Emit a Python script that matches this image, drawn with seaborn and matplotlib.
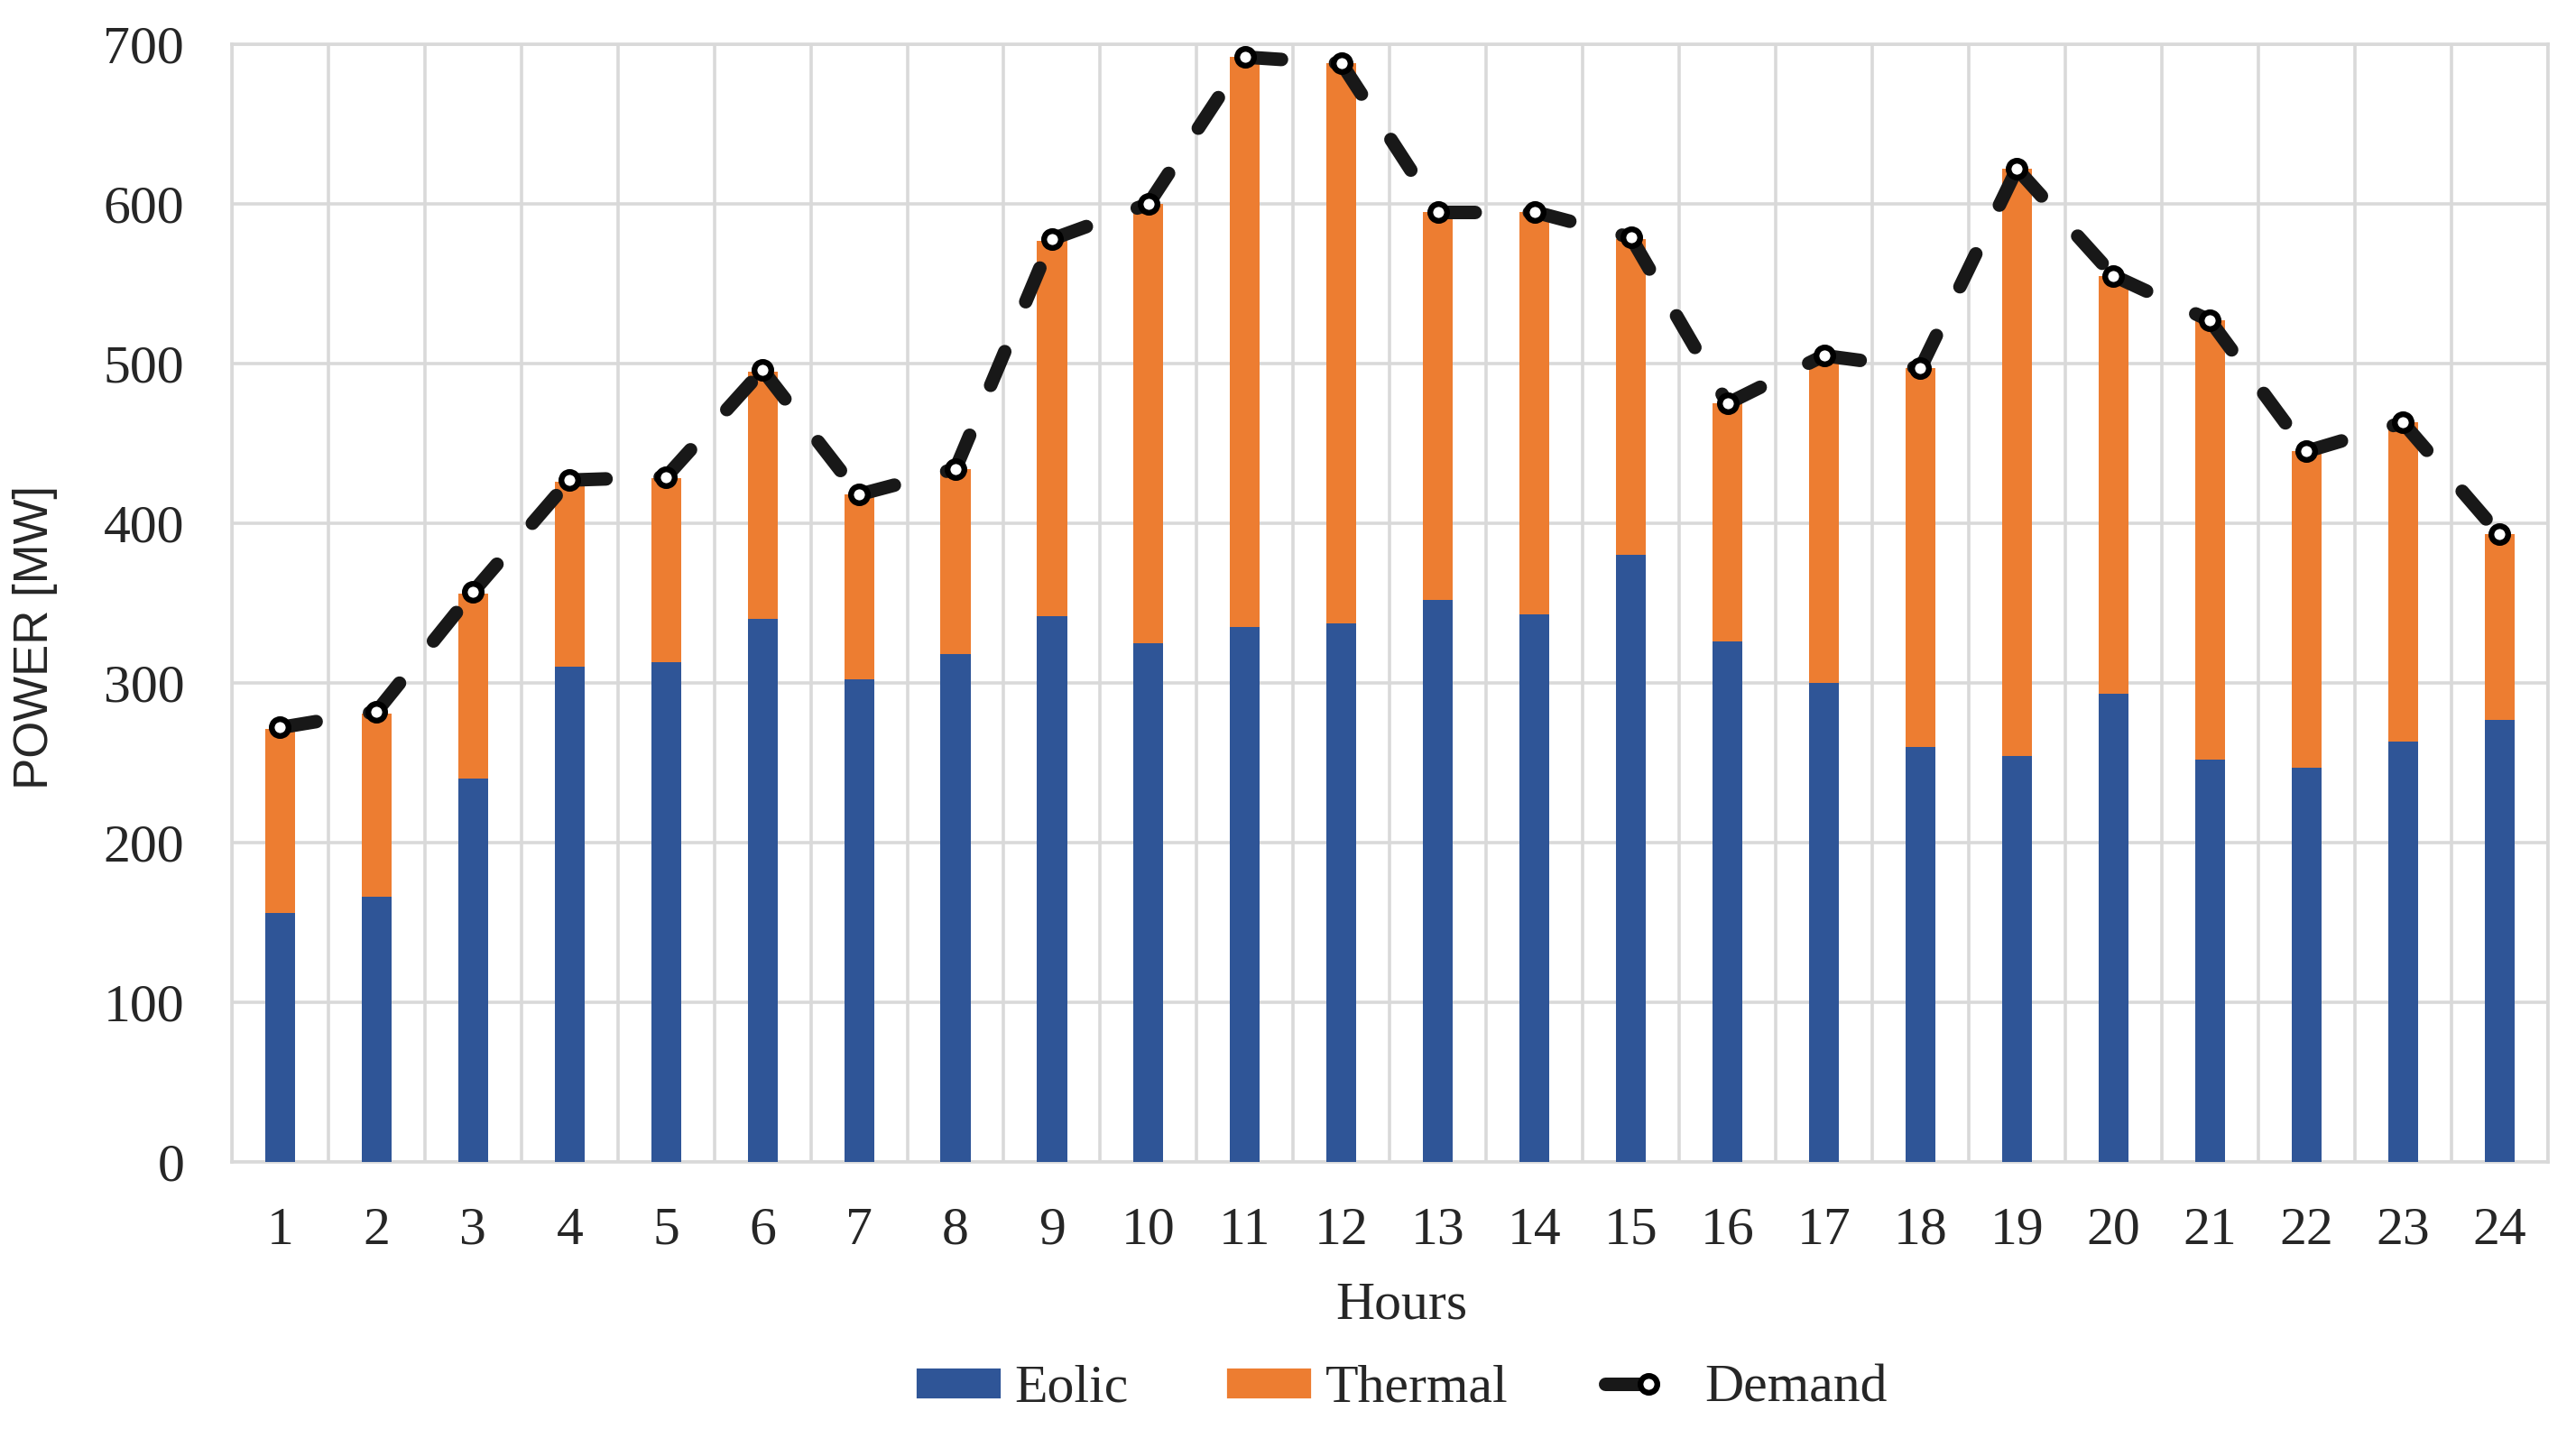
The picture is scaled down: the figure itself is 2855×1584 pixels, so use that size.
import matplotlib
matplotlib.use("Agg")
import matplotlib.pyplot as plt
import numpy as np
import pandas as pd
import seaborn as sns
from matplotlib.lines import Line2D
from matplotlib.patches import Patch

# hourly dispatch, MW
hours = [str(h) for h in range(1, 25)]
eolic = [156, 166, 240, 310, 313, 340, 302, 318, 342, 325, 335, 337,
         352, 343, 380, 326, 300, 260, 254, 293, 252, 247, 263, 277]
thermal = [115, 115, 116, 116, 115, 155, 116, 116, 235, 275, 357, 351,
           243, 252, 198, 149, 205, 237, 368, 262, 275, 198, 200, 116]
demand = [272, 282, 357, 427, 429, 496, 418, 434, 578, 600, 692, 688,
          595, 595, 579, 475, 505, 497, 622, 555, 527, 445, 463, 393]

BLUE = "#2F5597"
ORANGE = "#ED7D31"
GRID = "#D9D9D9"
LINE = "#181818"
FS = 21.5

sns.set_theme(style="white")
plt.rcParams["font.family"] = ["Liberation Serif", "DejaVu Serif"]

df = pd.DataFrame({"hour": hours, "eolic": eolic, "thermal": thermal, "demand": demand})
df["total"] = df["eolic"] + df["thermal"]

fig, ax = plt.subplots(figsize=(14.275, 7.92), dpi=200)
fig.subplots_adjust(left=0.090, right=0.989, top=0.969, bottom=0.187)

# stacked bars: thermal on top of eolic
sns.barplot(data=df, x="hour", y="total", order=hours, color=ORANGE, width=0.31,
            saturation=1, errorbar=None, linewidth=0, ax=ax, zorder=2)
sns.barplot(data=df, x="hour", y="eolic", order=hours, color=BLUE, width=0.31,
            saturation=1, errorbar=None, linewidth=0, ax=ax, zorder=3)

# demand line, dash pattern restarts at every point like the original
line_kw = dict(color=LINE, lw=5.4, dashes=(2.7, 4.0), dash_capstyle="round")
marker_kw = dict(marker="o", ms=6.7, mfc="white", mec="black", mew=2.3)
pos = np.arange(len(hours))
for i in range(len(hours) - 1):
    ax.plot(pos[i:i + 2], demand[i:i + 2], zorder=4, **line_kw)
ax.plot(pos, demand, ls="none", zorder=5, **marker_kw)

ax.set_xlim(-0.5, len(hours) - 0.5)
ax.set_ylim(0, 700)
ax.set_yticks(range(0, 701, 100))
ax.set_xticks(np.arange(-0.5, len(hours), 1), minor=True)
ax.grid(axis="y", which="major", color=GRID, lw=1.3)
ax.grid(axis="x", which="minor", color=GRID, lw=1.3)
ax.grid(axis="x", which="major", visible=False)
ax.set_axisbelow(True)
ax.tick_params(which="both", length=0)
ax.tick_params(axis="y", pad=19, labelsize=FS)
ax.tick_params(axis="x", pad=18, labelsize=FS)
for s in ax.spines.values():
    s.set_color(GRID)
    s.set_linewidth(1.3)

ax.set_xlabel("Hours", fontsize=FS)
ax.set_ylabel("POWER [MW]", fontsize=19, fontfamily="Liberation Sans")
ax.xaxis.set_label_coords(0.505, -0.107)
ax.yaxis.set_label_coords(-0.075, 0.469)

handles = [
    Patch(facecolor=BLUE, label="Eolic"),
    Patch(facecolor=ORANGE, label="Thermal"),
    Line2D([], [], label="Demand", **line_kw, **marker_kw),
]
fig.legend(handles=handles, loc="center", bbox_to_anchor=(0.544, 0.028), ncol=3,
           frameon=False, handlelength=1.6, handleheight=0.55, handletextpad=0.25,
           columnspacing=1.8, fontsize=FS)

fig.savefig("out.png", dpi=200)
